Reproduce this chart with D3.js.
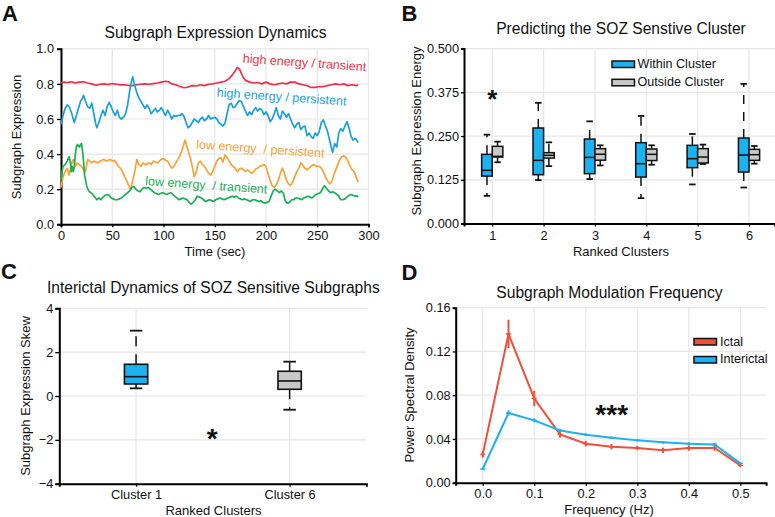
<!DOCTYPE html>
<html><head><meta charset="utf-8">
<script src="https://cdn.jsdelivr.net/npm/d3@7"></script>
<style>body{margin:0;background:#fff}svg text{font-family:"Liberation Sans",Arial,Helvetica,sans-serif;fill:#111}</style>
</head><body><svg id="c" width="775" height="517"></svg>
<script>
// ---------- Panel A data ----------
const timeTicks=[0,50,100,150,200,250,300];
const exprTicks=[0,0.2,0.4,0.6,0.8,1.0];
const hiTransient=[[0,.805],[3,.81],[6,.808],[10,.812],[14,.806],[18,.81],[22,.812],[26,.805],[30,.80],[34,.792],[38,.798],[42,.80],[46,.796],[50,.802],[54,.798],[58,.794],[62,.795],[66,.792],[70,.79],[74,.795],[78,.798],[82,.80],[86,.798],[90,.802],[94,.805],[98,.81],[102,.815],[105,.812],[108,.80],[112,.795],[116,.785],[120,.778],[124,.782],[128,.79],[132,.788],[136,.795],[140,.79],[144,.798],[148,.80],[152,.805],[156,.81],[160,.815],[164,.83],[167,.85],[170,.875],[172,.893],[174,.885],[176,.86],[178,.835],[180,.82],[184,.81],[188,.805],[192,.808],[196,.80],[200,.81],[204,.80],[208,.795],[212,.80],[216,.805],[220,.80],[224,.81],[228,.81],[232,.80],[236,.795],[240,.79],[244,.78],[248,.78],[252,.785],[256,.785],[260,.79],[264,.795],[268,.80],[272,.795],[276,.80],[280,.79],[284,.795],[288,.79],[290,.795]];
const hiPersistent=[[0,.57],[2,.62],[4,.66],[6,.68],[8,.67],[10,.64],[12,.60],[13,.58],[15,.62],[17,.66],[19,.70],[21,.72],[22,.735],[24,.70],[26,.67],[28,.66],[30,.69],[32,.63],[34,.57],[35,.55],[37,.58],[39,.62],[41,.65],[43,.62],[45,.67],[47,.695],[49,.67],[51,.64],[53,.62],[55,.65],[57,.61],[59,.60],[61,.61],[63,.63],[65,.68],[67,.76],[69,.82],[70,.84],[72,.79],[74,.75],[76,.72],[78,.70],[80,.68],[82,.66],[84,.68],[86,.66],[88,.63],[90,.645],[92,.66],[94,.64],[96,.65],[98,.665],[100,.64],[102,.62],[104,.65],[106,.63],[108,.60],[110,.62],[112,.615],[114,.62],[116,.62],[118,.63],[120,.615],[122,.58],[124,.55],[126,.56],[128,.58],[130,.60],[132,.59],[134,.58],[136,.60],[138,.61],[140,.59],[142,.60],[144,.62],[146,.60],[148,.605],[150,.61],[152,.60],[154,.58],[156,.57],[158,.56],[160,.575],[162,.63],[164,.68],[166,.69],[168,.665],[170,.67],[172,.69],[174,.705],[176,.70],[178,.67],[180,.645],[182,.62],[184,.64],[186,.625],[188,.65],[190,.665],[192,.645],[194,.66],[196,.65],[198,.625],[200,.64],[202,.62],[204,.585],[206,.60],[208,.63],[210,.665],[212,.62],[214,.60],[216,.645],[218,.63],[220,.61],[222,.63],[224,.60],[226,.57],[228,.55],[230,.57],[232,.58],[234,.54],[236,.555],[238,.56],[240,.505],[242,.52],[244,.50],[246,.49],[248,.52],[250,.505],[252,.53],[254,.58],[256,.595],[258,.56],[260,.53],[262,.48],[264,.43],[265,.41],[267,.46],[269,.44],[271,.52],[273,.545],[275,.53],[277,.56],[279,.585],[281,.55],[283,.50],[285,.48],[287,.49],[289,.475],[290,.465]];
const loPersistent=[[0,.21],[2,.27],[4,.30],[6,.32],[8,.28],[10,.34],[12,.37],[14,.33],[16,.35],[18,.34],[20,.33],[22,.31],[24,.30],[26,.37],[28,.36],[30,.35],[32,.36],[34,.355],[36,.35],[38,.36],[40,.365],[42,.37],[44,.36],[46,.365],[48,.37],[50,.36],[52,.365],[54,.35],[56,.33],[58,.32],[60,.30],[62,.27],[64,.25],[66,.22],[68,.20],[70,.25],[72,.30],[74,.37],[76,.34],[78,.33],[80,.35],[82,.34],[84,.345],[86,.35],[88,.34],[90,.36],[92,.355],[94,.35],[96,.36],[98,.37],[100,.375],[102,.365],[104,.36],[106,.34],[108,.32],[110,.33],[112,.35],[114,.37],[116,.39],[118,.42],[120,.46],[121,.48],[123,.44],[125,.40],[127,.36],[129,.30],[130,.27],[132,.30],[134,.35],[136,.36],[138,.34],[140,.33],[142,.31],[144,.29],[146,.28],[148,.30],[150,.33],[152,.36],[154,.375],[156,.38],[158,.355],[160,.395],[162,.38],[164,.36],[166,.34],[168,.33],[170,.32],[172,.30],[174,.315],[176,.32],[178,.31],[180,.30],[182,.31],[184,.30],[186,.29],[188,.30],[190,.315],[192,.32],[194,.33],[196,.335],[198,.34],[200,.33],[202,.29],[204,.25],[206,.22],[208,.21],[210,.225],[212,.25],[214,.29],[216,.32],[218,.29],[220,.25],[222,.23],[224,.22],[226,.24],[228,.27],[230,.30],[232,.32],[234,.35],[236,.335],[238,.32],[240,.31],[242,.32],[244,.33],[246,.34],[248,.335],[250,.33],[252,.33],[254,.32],[256,.30],[258,.27],[260,.25],[262,.23],[264,.24],[266,.28],[268,.31],[270,.34],[272,.37],[274,.385],[276,.39],[278,.38],[280,.36],[282,.33],[284,.31],[286,.30],[288,.27],[290,.24]];
const loTransient=[[0,.25],[1,.30],[2,.33],[4,.34],[6,.36],[8,.385],[9,.36],[10,.30],[11,.33],[12,.30],[13,.33],[14,.40],[15,.44],[16,.455],[18,.44],[19,.455],[20,.46],[21,.42],[22,.36],[23,.28],[25,.22],[27,.19],[29,.18],[31,.17],[33,.155],[35,.14],[37,.15],[39,.14],[41,.155],[43,.165],[45,.17],[47,.165],[49,.15],[51,.145],[53,.14],[55,.14],[57,.145],[59,.15],[61,.16],[63,.17],[65,.18],[67,.19],[69,.21],[71,.215],[73,.20],[75,.19],[77,.185],[79,.20],[81,.21],[83,.205],[85,.21],[87,.20],[89,.19],[91,.18],[93,.175],[95,.17],[97,.175],[99,.18],[101,.175],[103,.17],[105,.175],[107,.18],[109,.17],[111,.16],[113,.15],[115,.14],[117,.145],[119,.15],[121,.145],[123,.14],[125,.125],[127,.115],[129,.125],[131,.14],[133,.16],[135,.155],[137,.15],[139,.14],[141,.13],[143,.135],[145,.14],[147,.135],[149,.13],[151,.14],[153,.145],[155,.15],[157,.145],[159,.14],[161,.145],[163,.15],[165,.155],[167,.16],[169,.155],[171,.16],[173,.15],[175,.145],[177,.14],[179,.145],[181,.14],[183,.135],[185,.13],[187,.14],[189,.14],[191,.135],[193,.13],[195,.135],[197,.125],[199,.12],[201,.125],[203,.13],[205,.16],[207,.19],[209,.20],[211,.19],[213,.18],[215,.19],[217,.175],[219,.13],[221,.12],[223,.125],[225,.14],[227,.14],[229,.15],[231,.15],[233,.145],[235,.14],[237,.15],[239,.155],[241,.16],[243,.155],[245,.15],[247,.16],[249,.17],[251,.175],[253,.18],[255,.20],[257,.22],[259,.205],[261,.19],[263,.18],[265,.185],[267,.18],[269,.17],[271,.16],[273,.14],[275,.14],[277,.145],[279,.155],[281,.165],[283,.17],[285,.165],[287,.16],[289,.16],[290,.155]];
const seriesLabels=["high energy / transient","high energy / persistent","low energy  / persistent","low energy  / transient"];

// ---------- Panel B data: [lowerCap, q1, median, q3, upperCap] ----------
const rankedClusters=[1,2,3,4,5,6];
const energyTicks=[0,0.125,0.25,0.375,0.5];
const withinCluster=[[0.079,0.1355,0.152,0.1977,0.254],[0.124,0.1395,0.1805,0.273,0.345],[0.127,0.1424,0.189,0.2415,0.292],[0.0725,0.1327,0.171,0.231,0.3075],[0.1117,0.1596,0.1853,0.2235,0.256],[0.103,0.147,0.1957,0.2444,0.399]];
const outsideCluster=[[0.175,0.19,0.192,0.2206,0.234],[0.164,0.187,0.195,0.2025,0.232],[0.166,0.181,0.198,0.214,0.2235],[0.168,0.18,0.1977,0.213,0.2235],[0.170,0.173,0.19,0.214,0.2255],[0.171,0.1805,0.1968,0.212,0.2215]];
const legendB=["Within Cluster","Outside Cluster"];

// ---------- Panel C data ----------
const skewClusters=["Cluster 1","Cluster 6"];
const skewTicks=[-4,-2,0,2,4];
const skewStats=[[0.35,0.548,0.881,1.447,2.98],[-0.625,0.306,0.685,1.128,1.566]];

// ---------- Panel D data ----------
const freqs=[0,0.05,0.1,0.15,0.2,0.25,0.3,0.35,0.4,0.45,0.5];
const freqTicks=[0,0.1,0.2,0.3,0.4,0.5];
const psdTicks=[0,0.04,0.08,0.12,0.16];
const ictal=[0.0259,0.136,0.077,0.0442,0.0357,0.0329,0.0317,0.0296,0.0317,0.0317,0.0158];
const ictalErr=[0.003,0.013,0.007,0.003,0.0025,0.0025,0.002,0.0025,0.0025,0.0025,0.0015];
const interictal=[0.0125,0.0637,0.057,0.0478,0.0439,0.0411,0.0387,0.0369,0.0357,0.035,0.0177];
const interictalErr=[0.001,0.0025,0.0018,0.0015,0.0012,0.0012,0.0012,0.0012,0.0012,0.0015,0.001];

// ---------- drawing ----------
const svg=d3.select('#c');
const GRID='#e6e6e6';
const C={red:'#e8334a',blue:'#1aa0d8',orange:'#f7a339',green:'#1aae58',boxBlue:'#1ab2f0',boxGray:'#c8c8c8',dRed:'#f0503a',dBlue:'#1fb0ee'};

function styleAxis(g){
  g.select('.domain').attr('stroke','#000').attr('stroke-width',2);
  g.selectAll('.tick line').attr('stroke','#000').attr('stroke-width',1.3);
  g.selectAll('.tick text').attr('font-size','12.8px').attr('fill','#111');
}
function frame(x,y,xT,yT,xFmt,yFmt,o){
  const g=svg.append('g');
  const [x0,x1]=x.range(), [y0,y1]=y.range();
  const xr=o.gridRight||x1;
  g.selectAll('.gh').data(yT).join('line').attr('x1',x0).attr('x2',xr).attr('y1',d=>y(d)).attr('y2',d=>y(d)).attr('stroke',GRID).attr('stroke-width',1.2);
  g.selectAll('.gv').data(xT).join('line').attr('x1',d=>x(d)).attr('x2',d=>x(d)).attr('y1',y0).attr('y2',y1).attr('stroke',GRID).attr('stroke-width',1.2);
  const ax=svg.append('g').attr('transform',`translate(0,${y0})`).call(d3.axisBottom(x).tickValues(xT).tickFormat(xFmt).tickSizeOuter(0).tickSize(3).tickPadding(o.xPad));
  styleAxis(ax);
  const ay=svg.append('g').attr('transform',`translate(${x0},0)`).call(d3.axisLeft(y).tickValues(yT).tickFormat(yFmt).tickSizeOuter(0).tickSize(o.yTick).tickPadding(o.yPad));
  styleAxis(ay);
  return g;
}
function txt(x,y,s,size,opts={}){
  const t=svg.append('text').attr('x',x).attr('y',y).attr('font-size',size+'px').text(s);
  if(opts.anchor) t.attr('text-anchor',opts.anchor);
  if(opts.weight) t.attr('font-weight',opts.weight);
  if(opts.rotate!=null) t.attr('transform',`rotate(${opts.rotate},${x},${y})`);
  if(opts.fill) t.style('fill',opts.fill);
  return t;
}

// Panel A
{
  const x=d3.scaleLinear().domain([0,300]).range([61,368.5]);
  const y=d3.scaleLinear().domain([0,1]).range([224.3,48.8]);
  frame(x,y,timeTicks,exprTicks,d3.format('d'),d3.format('.1f'),{xPad:4,yTick:4,yPad:3});
  const line=d3.line().x(d=>x(d[0])).y(d=>y(d[1]));
  const sets=[[hiTransient,C.red],[hiPersistent,C.blue],[loPersistent,C.orange],[loTransient,C.green]];
  sets.forEach(([d,c])=>svg.append('path').datum(d).attr('d',line).attr('fill','none').attr('stroke',c).attr('stroke-width',1.7).attr('stroke-linejoin','round'));
  const lp=[[242.5,62.5,C.red],[216.5,96.5,C.blue],[196,148.5,C.orange],[145,185,C.green]];
  lp.forEach((p,i)=>txt(p[0],p[1],seriesLabels[i],12.5,{rotate:4,fill:p[2]}).style('white-space','pre'));
  txt(215.5,37.7,'Subgraph Expression Dynamics',15.6,{anchor:'middle'});
  txt(215,255.5,'Time (sec)',13,{anchor:'middle'});
  txt(20.5,137,'Subgraph Expression',13,{anchor:'middle',rotate:-90});
  txt(2,21,'A',22,{weight:'bold'});
}

// Panel B
{
  const x=d3.scaleLinear().domain([0.45,6.5]).range([464,774.7]);
  const y=d3.scaleLinear().domain([0,0.5]).range([223.5,48.6]);
  frame(x,y,rankedClusters,energyTicks,d3.format('d'),d3.format('.3f'),{gridRight:775,xPad:4,yTick:3,yPad:2});
  const bw=10.6, cw=6.5;
  function box(cx,s,fill){
    const g=svg.append('g');
    g.append('line').attr('x1',cx).attr('x2',cx).attr('y1',y(s[3])).attr('y2',y(s[4])).attr('stroke','#111').attr('stroke-width',1.5).attr('stroke-dasharray','9,8');
    g.append('line').attr('x1',cx).attr('x2',cx).attr('y1',y(s[1])).attr('y2',y(s[0])).attr('stroke','#111').attr('stroke-width',1.5).attr('stroke-dasharray','9,8');
    [s[0],s[4]].forEach(v=>g.append('line').attr('x1',cx-cw/2).attr('x2',cx+cw/2).attr('y1',y(v)).attr('y2',y(v)).attr('stroke','#111').attr('stroke-width',1.8));
    g.append('rect').attr('x',cx-bw/2).attr('width',bw).attr('y',y(s[3])).attr('height',y(s[1])-y(s[3])).attr('fill',fill).attr('stroke','#111').attr('stroke-width',1.5);
    g.append('line').attr('x1',cx-bw/2).attr('x2',cx+bw/2).attr('y1',y(s[2])).attr('y2',y(s[2])).attr('stroke','#111').attr('stroke-width',1.5);
  }
  rankedClusters.forEach((c,i)=>{
    box(x(c)-bw/2,withinCluster[i],C.boxBlue);
    box(x(c)+bw/2,outsideCluster[i],C.boxGray);
  });
  txt(x(1),92.7+0.57*26,'*',26,{anchor:'middle',weight:'bold'});
  [[C.boxBlue,61,68.3],[C.boxGray,79.3,86]].forEach((l,i)=>{
    svg.append('rect').attr('x',612).attr('y',l[1]).attr('width',22.5).attr('height',6.5).attr('fill',l[0]).attr('stroke','#111').attr('stroke-width',1.5);
    txt(637.5,l[2],legendB[i],12.6);
  });
  txt(621,34.3,'Predicting the SOZ Senstive Cluster',15.6,{anchor:'middle'});
  txt(621,255.5,'Ranked Clusters',13,{anchor:'middle'});
  txt(420.6,131,'Subgraph Expression Energy',13,{anchor:'middle',rotate:-90});
  txt(401.5,21,'B',22,{weight:'bold'});
}

// Panel C
{
  const x=d3.scaleLinear().domain([0.5,2.5]).range([59.3,366.4]);
  const y=d3.scaleLinear().domain([-4,4]).range([483.7,308.3]);
  const pos=[1,2];
  frame(x,y,pos,skewTicks,(d,i)=>skewClusters[i],d3.format('d'),{xPad:3,yTick:4,yPad:2});
  const bw=23.3, cw=12.5;
  const fills=[C.boxBlue,C.boxGray];
  pos.forEach((p,i)=>{
    const s=skewStats[i], cx=x(p), g=svg.append('g');
    g.append('line').attr('x1',cx).attr('x2',cx).attr('y1',y(s[3])).attr('y2',y(s[4])).attr('stroke','#111').attr('stroke-width',1.5).attr('stroke-dasharray','10,8');
    g.append('line').attr('x1',cx).attr('x2',cx).attr('y1',y(s[1])).attr('y2',y(s[0])).attr('stroke','#111').attr('stroke-width',1.5).attr('stroke-dasharray','10,8');
    [s[0],s[4]].forEach(v=>g.append('line').attr('x1',cx-cw/2).attr('x2',cx+cw/2).attr('y1',y(v)).attr('y2',y(v)).attr('stroke','#111').attr('stroke-width',1.8));
    g.append('rect').attr('x',cx-bw/2).attr('width',bw).attr('y',y(s[3])).attr('height',y(s[1])-y(s[3])).attr('fill',fills[i]).attr('stroke','#111').attr('stroke-width',1.6);
    g.append('line').attr('x1',cx-bw/2).attr('x2',cx+bw/2).attr('y1',y(s[2])).attr('y2',y(s[2])).attr('stroke','#111').attr('stroke-width',1.6);
  });
  txt(212.3,431.7+0.57*28,'*',28,{anchor:'middle',weight:'bold'});
  txt(213.3,293,'Interictal Dynamics of SOZ Sensitive Subgraphs',15.6,{anchor:'middle'});
  txt(213.5,514.5,'Ranked Clusters',13,{anchor:'middle'});
  txt(29.6,396,'Subgraph Expression Skew',13,{anchor:'middle',rotate:-90});
  txt(1,279,'C',22,{weight:'bold'});
}

// Panel D
{
  const x=d3.scaleLinear().domain([-0.0525,0.55]).range([455.7,766.1]);
  const y=d3.scaleLinear().domain([0,0.16]).range([482.7,307.7]);
  frame(x,y,freqTicks,psdTicks,d3.format('.1f'),d3.format('.2f'),{xPad:3,yTick:3,yPad:2});
  const line=d3.line().x((d,i)=>x(freqs[i])).y(d=>y(d));
  [[ictal,ictalErr,C.dRed],[interictal,interictalErr,C.dBlue]].forEach(([v,e,c])=>{
    svg.append('path').datum(v).attr('d',line).attr('fill','none').attr('stroke',c).attr('stroke-width',2);
    const g=svg.append('g');
    freqs.forEach((f,i)=>{
      g.append('line').attr('x1',x(f)).attr('x2',x(f)).attr('y1',y(v[i]-e[i])).attr('y2',y(v[i]+e[i])).attr('stroke',c).attr('stroke-width',2);
      g.append('line').attr('x1',x(f)-2.5).attr('x2',x(f)+2.5).attr('y1',y(v[i])).attr('y2',y(v[i])).attr('stroke',c).attr('stroke-width',1.5);
    });
  });
  txt(611.7,408+0.57*28,'***',28,{anchor:'middle',weight:'bold'});
  const legD=['Ictal','Interictal'];
  [[C.dRed,338.5,345.7],[C.dBlue,356.5,363.3]].forEach((l,i)=>{
    svg.append('rect').attr('x',694).attr('y',l[1]).attr('width',22.5).attr('height',6.5).attr('fill',l[0]).attr('stroke','#111').attr('stroke-width',1.5);
    txt(720,l[2],legD[i],12.6);
  });
  txt(609.5,297.5,'Subgraph Modulation Frequency',15.6,{anchor:'middle'});
  txt(609,514,'Frequency (Hz)',13,{anchor:'middle'});
  txt(414,395,'Power Spectral Density',13,{anchor:'middle',rotate:-90});
  txt(401.5,280,'D',22,{weight:'bold'});
}
</script></body></html>
